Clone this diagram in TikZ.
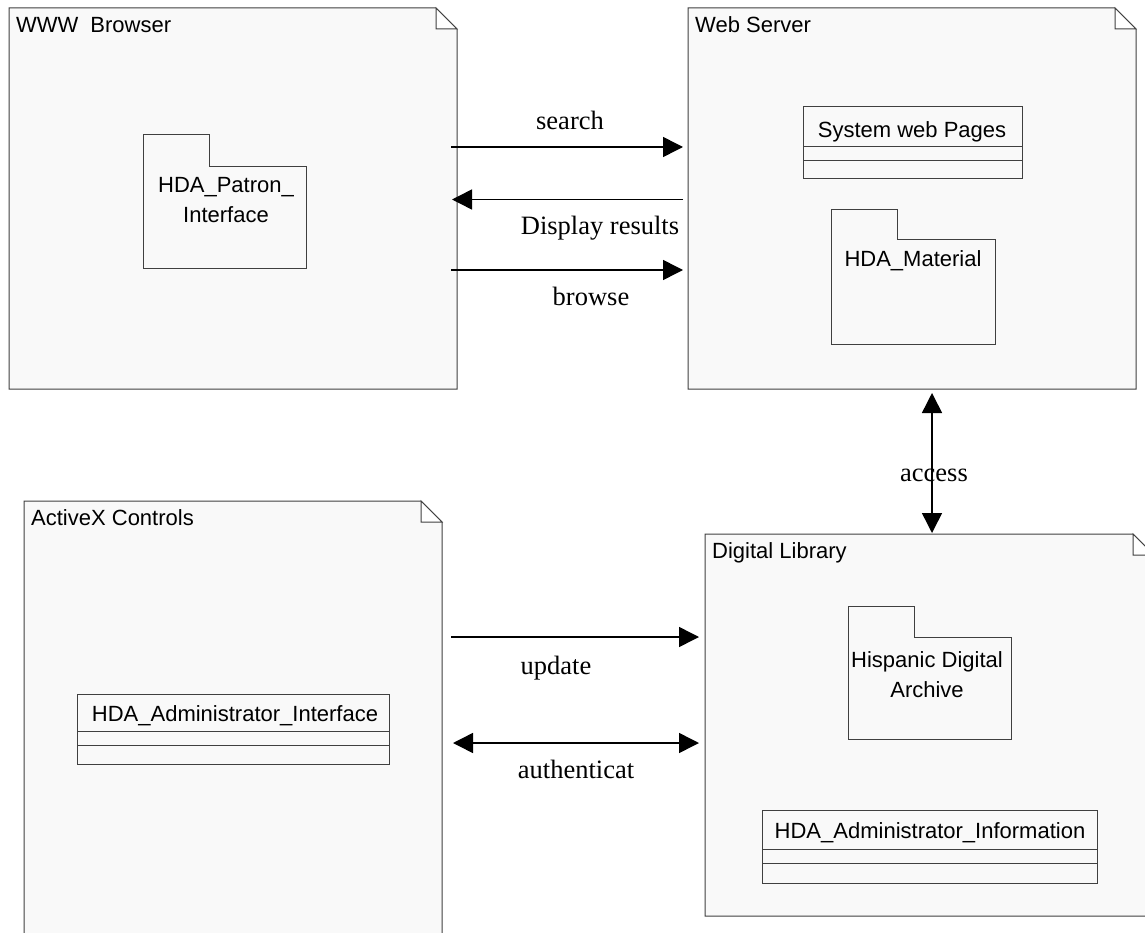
\documentclass[tikz,border=0pt]{standalone}
\usepackage{fontspec}
\setmainfont{Liberation Serif}
\setsansfont{Liberation Sans}
\usetikzlibrary{arrows.meta}
\definecolor{boxfill}{HTML}{F9F9F9}
\definecolor{boxline}{HTML}{404040}
\tikzset{
  shapeline/.style={draw=boxline,line width=1pt,fill=boxfill,line join=miter},
  thinline/.style={draw=boxline,line width=0.9pt},
  foldline/.style={draw=boxline,line width=1pt,fill=white},
  boxtitle/.style={font=\sffamily\fontsize{22}{26}\selectfont,inner sep=0pt,anchor=base west,text=black},
  inner/.style={font=\sffamily\fontsize{22}{30}\selectfont,inner sep=0pt,align=center,text=black},
  flowlabel/.style={font=\rmfamily\fontsize{26.5}{30}\selectfont,inner sep=0pt,anchor=base,text=black},
  flow/.style={draw=black,line width=1.5pt,-{Triangle[length=20pt,width=20pt]}},
  flowboth/.style={draw=black,line width=1.5pt,{Triangle[length=20pt,width=20pt]}-{Triangle[length=20pt,width=20pt]}}
}
\newcommand{\notebox}[6]{% name, x1, y1, x2, y2, title
  \path[shapeline] (#2,#3) -- ({#4-21},#3) -- (#4,{#3+21}) -- (#4,#5) -- (#2,#5) -- cycle;
  \path[foldline] ({#4-21},#3) -- (#4,{#3+21}) -- ({#4-21},{#3+21}) -- cycle;
  \node[boxtitle] (#1) at ({#2+7},{#3+24.5}) {#6};
}
\newcommand{\folderbox}[6]{% x1, ytab, xtab, ybody, x2, y3
  \path[shapeline] (#1,#2) -- (#3,#2) -- (#3,#4) -- (#5,#4) -- (#5,#6) -- (#1,#6) -- cycle;
}
\newcommand{\classbox}[6]{% x1, x2, y1, y2, y3, y4
  \path[shapeline] (#1,#3) rectangle (#2,#6);
  \draw[thinline] (#1,#4) -- (#2,#4);
  \draw[thinline] (#1,#5) -- (#2,#5);
}
\begin{document}
\begin{tikzpicture}[x=1pt,y=-1pt]
\useasboundingbox (0,0) rectangle (1145,933);
\clip (0,0) rectangle (1145,933);

\notebox{www}{9}{8}{457}{389}{WWW\hspace{12pt}Browser}
\notebox{web}{688}{8}{1136}{389}{Web Server}
\notebox{activex}{24}{501}{442}{945}{ActiveX Controls}
\notebox{dl}{705}{534}{1154}{916}{Digital Library}

\folderbox{143}{135}{209}{167}{306}{269}
\node[inner] (patrontext) at (226,200.5) {HDA\_Patron\_\\Interface};
\folderbox{831}{210}{897}{240}{995}{344}
\node[inner] (materialtext) at (913,261) {HDA\_Material};
\folderbox{848}{606}{914}{637}{1011}{739}
\node[inner] (archivetext) at (927,675) {Hispanic Digital\\Archive};

\classbox{803}{1022}{107}{146}{160}{179}
\node[inner] (pagestext) at (912,132) {System web Pages};
\classbox{77}{389}{694}{731}{745}{764}
\node[inner] (admintext) at (235,715.5) {HDA\_Administrator\_Interface};
\classbox{762}{1097}{810}{849}{863}{883}
\node[inner] (infotext) at (930,832.5) {HDA\_Administrator\_Information};

\coordinate (sa) at (451,147);  \coordinate (sb) at (683,147);
\coordinate (da) at (683,199.5);\coordinate (db) at (452,199.5);
\coordinate (ba) at (451,270);  \coordinate (bb) at (683,270);
\coordinate (aa) at (932,393);  \coordinate (ab) at (932,533);
\coordinate (ua) at (451,637);  \coordinate (ub) at (699,637);
\coordinate (ta) at (453,743);  \coordinate (tb) at (699,743);

\draw[flow] (sa) -- (sb);
\draw[flow] (da) -- (db);
\draw[flow] (ba) -- (bb);
\draw[flowboth] (aa) -- (ab);
\draw[flow] (ua) -- (ub);
\draw[flowboth] (ta) -- (tb);

\node[flowlabel] (lsearch) at (570,129.5) {search};
\node[flowlabel] (ldisplay) at (600,234.5) {Display results};
\node[flowlabel] (lbrowse) at (591,305.5) {browse};
\node[flowlabel] (laccess) at (934,481) {access};
\node[flowlabel] (lupdate) at (556,674) {update};
\node[flowlabel] (lauth) at (576,778) {authenticat};
\end{tikzpicture}
\end{document}
